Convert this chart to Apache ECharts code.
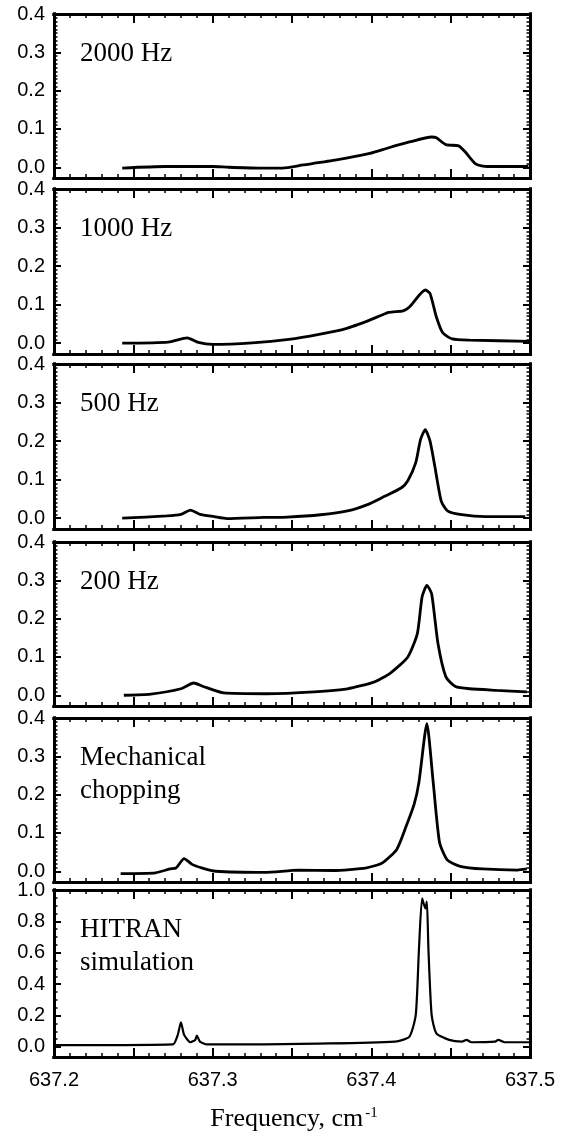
<!DOCTYPE html>
<html>
<head>
<meta charset="utf-8">
<script src="https://cdn.jsdelivr.net/npm/echarts@6/dist/echarts.min.js"></script>
<style>
  html, body { margin: 0; background: #fff; }
  #chart { width: 561px; height: 1135px; }
</style>
</head>
<body>
<div id="chart"></div>
<script>
// ---- data ----
const freq2000 = [637.243, 637.270, 637.300, 637.310, 637.329, 637.344, 637.357, 637.378, 637.399, 637.411, 637.424, 637.438, 637.441, 637.447, 637.455, 637.459, 637.466, 637.473, 637.499];
const abs2000 = [-0.002, 0.002, 0.002, 0.000, -0.002, -0.002, 0.006, 0.019, 0.036, 0.051, 0.066, 0.079, 0.077, 0.059, 0.056, 0.041, 0.008, 0.002, 0.002];

const freq1000 = [637.243, 637.272, 637.284, 637.291, 637.300, 637.325, 637.348, 637.367, 637.384, 637.399, 637.411, 637.420, 637.424, 637.434, 637.437, 637.441, 637.445, 637.451, 637.462, 637.500];
const abs1000 = [0.000, 0.003, 0.014, 0.002, -0.003, 0.001, 0.010, 0.023, 0.038, 0.060, 0.080, 0.084, 0.094, 0.138, 0.129, 0.068, 0.027, 0.011, 0.008, 0.005];

const freq500 = [637.243, 637.271, 637.280, 637.286, 637.292, 637.301, 637.309, 637.332, 637.347, 637.368, 637.385, 637.398, 637.408, 637.419, 637.423, 637.428, 637.431, 637.434, 637.437, 637.440, 637.444, 637.448, 637.457, 637.472, 637.497];
const abs500 = [0.000, 0.006, 0.010, 0.021, 0.010, 0.004, -0.001, 0.002, 0.003, 0.009, 0.019, 0.036, 0.056, 0.079, 0.097, 0.144, 0.204, 0.230, 0.200, 0.135, 0.045, 0.019, 0.009, 0.004, 0.004];

const freq200 = [637.244, 637.261, 637.280, 637.288, 637.294, 637.307, 637.334, 637.364, 637.385, 637.402, 637.412, 637.423, 637.429, 637.432, 637.435, 637.438, 637.442, 637.447, 637.453, 637.462, 637.479, 637.498];
const abs200 = [0.000, 0.003, 0.017, 0.032, 0.023, 0.006, 0.004, 0.009, 0.017, 0.035, 0.058, 0.100, 0.161, 0.257, 0.287, 0.265, 0.135, 0.048, 0.023, 0.017, 0.013, 0.009];

const freqMech = [637.242, 637.264, 637.273, 637.277, 637.282, 637.287, 637.293, 637.302, 637.333, 637.354, 637.376, 637.397, 637.407, 637.416, 637.422, 637.427, 637.430, 637.435, 637.439, 637.443, 637.448, 637.456, 637.470, 637.492, 637.498];
const absMech = [-0.006, -0.004, 0.006, 0.009, 0.033, 0.018, 0.009, 0.000, -0.003, 0.003, 0.002, 0.009, 0.022, 0.057, 0.118, 0.175, 0.232, 0.385, 0.232, 0.075, 0.029, 0.013, 0.006, 0.003, 0.006];

const freqHitran = [637.200, 637.275, 637.278, 637.280, 637.282, 637.286, 637.289, 637.290, 637.292, 637.296, 637.332, 637.415, 637.424, 637.428, 637.430, 637.432, 637.434, 637.435, 637.436, 637.438, 637.441, 637.449, 637.457, 637.460, 637.463, 637.478, 637.480, 637.484, 637.500];
const absHitran = [0.012, 0.017, 0.077, 0.157, 0.077, 0.030, 0.045, 0.072, 0.034, 0.017, 0.017, 0.034, 0.066, 0.204, 0.620, 0.947, 0.883, 0.926, 0.620, 0.204, 0.087, 0.045, 0.034, 0.045, 0.030, 0.034, 0.045, 0.030, 0.030];

// ---- tick labels ----
const xLabels = [637.2, 637.3, 637.4, 637.5];
const xMajor = [637.2, 637.25, 637.3, 637.35, 637.4, 637.45, 637.5];
const yLabels = [0, 0.1, 0.2, 0.3, 0.4];
const yLabelsHitran = [0, 0.2, 0.4, 0.6, 0.8, 1.0];

// minor tick positions
const steps = (a, b, d) => { const out = []; for (let v = a; v <= b + 1e-9; v += d) out.push(+v.toFixed(3)); return out; };
const xMinor = steps(637.2, 637.5, 0.01);

// panel layout
const panels = [
  {label: '2000 Hz', freq: freq2000, abs: abs2000, top: 14, height: 164},
  {label: '1000 Hz', freq: freq1000, abs: abs1000, top: 189, height: 165},
  {label: '500 Hz', freq: freq500, abs: abs500, top: 364, height: 165},
  {label: '200 Hz', freq: freq200, abs: abs200, top: 542, height: 164},
  {label: 'Mechanical\nchopping', freq: freqMech, abs: absMech, top: 718, height: 164},
  {label: 'HITRAN\nsimulation', freq: freqHitran, abs: absHitran, top: 890, height: 167, hitran: true}
];

const font = '"Liberation Sans", Arial, sans-serif';
const serif = '"Liberation Serif", "Times New Roman", serif';
const grids = [], xAxes = [], yAxes = [], series = [], graphics = [];

const line = () => ({show: true, onZero: false, lineStyle: {color: '#000', width: 3, cap: 'square'}});
const tick = (len, vals, w) => ({
  show: true, inside: true, length: len, customValues: vals,
  lineStyle: {color: '#000', width: w}
});

panels.forEach((p, i) => {
  const last = i === panels.length - 1;
  const ymin = p.hitran ? -0.064 : -0.028;
  const ymax = p.hitran ? 1.0 : 0.4;
  const yMaj = p.hitran ? steps(0, 1.0, 0.2) : steps(0, 0.4, 0.1);
  const yMin = p.hitran ? steps(0, 1.0, 0.05) : steps(0, 0.4, 0.01);

  grids.push({left: 54, right: 31, top: p.top, height: p.height, show: false});

  const xBase = () => ({type: 'value', gridIndex: i, min: 637.2, max: 637.5,
    axisLine: line(), splitLine: {show: false}, axisLabel: {show: false}});
  xAxes.push(
    Object.assign(xBase(), {position: 'bottom', axisTick: tick(9, xMajor, 2),
      axisLabel: last ? {show: true, customValues: xLabels, formatter: v => v.toFixed(1),
        color: '#000', fontSize: 20, fontFamily: font, margin: 13} : {show: false}}),
    Object.assign(xBase(), {position: 'bottom', axisTick: tick(4, xMinor, 1.5)}),
    Object.assign(xBase(), {position: 'top', axisTick: tick(9, xMajor, 2)}),
    Object.assign(xBase(), {position: 'top', axisTick: tick(4, xMinor, 1.5)})
  );

  const yBase = () => ({type: 'value', gridIndex: i, min: ymin, max: ymax,
    axisLine: line(), splitLine: {show: false}, axisLabel: {show: false}});
  yAxes.push(
    Object.assign(yBase(), {position: 'left', axisTick: tick(7, yMaj, 2),
      axisLabel: {show: true, customValues: p.hitran ? yLabelsHitran : yLabels,
        formatter: v => v.toFixed(1), color: '#000', fontSize: 20, fontFamily: font, margin: 9}}),
    Object.assign(yBase(), {position: 'left', axisTick: tick(3.5, yMin, 1.5)}),
    Object.assign(yBase(), {position: 'right', axisTick: tick(7, yMaj, 2)}),
    Object.assign(yBase(), {position: 'right', axisTick: tick(3.5, yMin, 1.5)})
  );

  series.push({
    type: 'line', xAxisIndex: i * 4, yAxisIndex: i * 4,
    data: p.freq.map((f, k) => [f, p.abs[k]]),
    showSymbol: false, symbol: 'none', smooth: 0.2,
    lineStyle: {color: '#000', width: p.hitran ? 2.2 : 2.8},
    silent: true, animation: false
  });

  graphics.push({
    type: 'text', left: 80, top: p.top + 23,
    style: {text: p.label, font: '27px ' + serif, fill: '#000', lineHeight: 33}
  });
});

graphics.push({
  type: 'text', x: 294, y: 1106,
  style: {
    text: '{a|Frequency, cm}{b|-1}', align: 'center', verticalAlign: 'top',
    rich: {
      a: {font: '26px ' + serif, fill: '#000'},
      b: {font: '15px ' + serif, fill: '#000', verticalAlign: 'top', padding: [0, 0, 0, 2]}
    }
  }
});

const chart = echarts.init(document.getElementById('chart'));
chart.setOption({
  backgroundColor: '#fff',
  animation: false,
  grid: grids,
  xAxis: xAxes,
  yAxis: yAxes,
  series: series,
  graphic: graphics
});
</script>
</body>
</html>
